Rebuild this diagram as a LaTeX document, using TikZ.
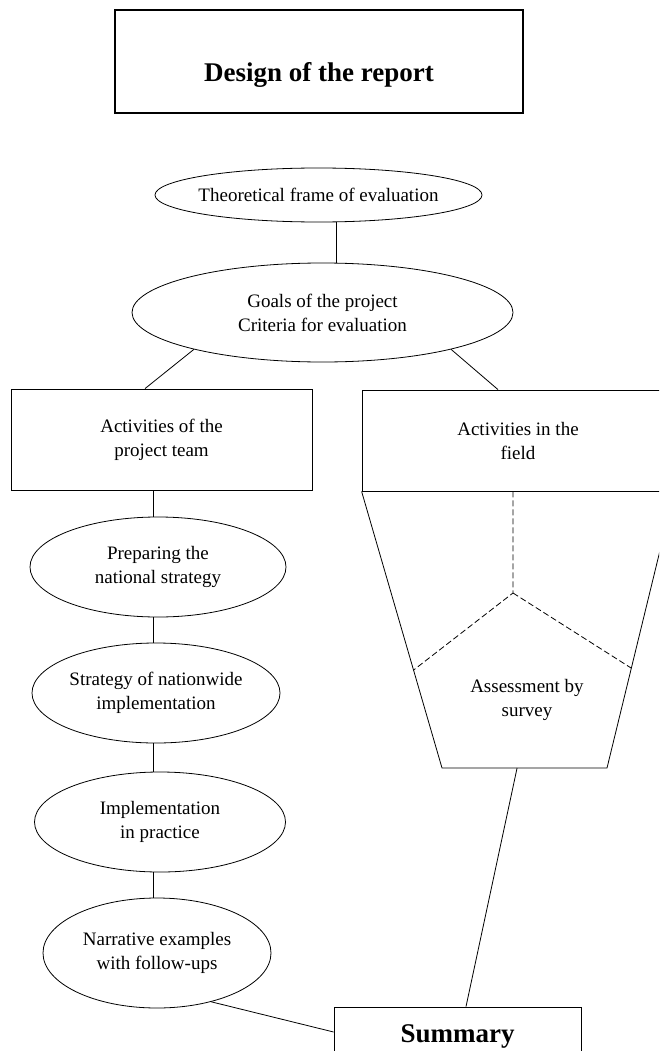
\documentclass[tikz,border=0pt]{standalone}
\usepackage{fontspec}
\setmainfont{Liberation Serif}
\usetikzlibrary{shapes,arrows,positioning,calc,shapes.geometric}

\begin{document}
\begin{tikzpicture}[x=1pt, y=-1pt, line width=0.8pt]
    \tikzstyle{box} = [draw, rectangle, inner sep=0pt, align=center, font=\fontsize{19}{24}\selectfont]
    \tikzstyle{oval} = [draw, ellipse, inner sep=0pt, align=center, font=\fontsize{19}{24}\selectfont]
    \tikzstyle{headbox} = [draw, rectangle, inner sep=0pt, font=\fontsize{27}{32}\selectfont\bfseries]
    \tikzstyle{line} = [draw]

    \clip (0,0) rectangle (659,1051);

    \node [headbox, line width=1.2pt, minimum width=408pt, minimum height=103pt, text height=41pt, text depth=0pt] (design) at (319,61.5) {Design of the report};

    \node [oval, inner xsep=-8pt, minimum width=327pt, minimum height=54pt] (theory) at (318.5,195) {Theoretical frame of evaluation};
    \node [oval, minimum width=381pt, minimum height=99pt] (goals) at (322.5,312.5) {Goals of the project\\Criteria for evaluation};

    \node [box, minimum width=301pt, minimum height=101pt] (acteam) at (161.5,439.5) {Activities of the\\project team};
    \node [box, minimum width=312pt, minimum height=101pt] (acfield) at (518,440.5) {Activities in the\\field};

    \node [oval, minimum width=256pt, minimum height=100pt] (prep) at (158,567) {Preparing the\\national strategy};
    \node [oval, minimum width=248pt, minimum height=100pt] (strat) at (156,693) {Strategy of nationwide\\implementation};
    \node [oval, minimum width=251pt, minimum height=100pt] (impl) at (160,822) {Implementation\\in practice};
    \node [oval, minimum width=228pt, minimum height=110pt] (narr) at (157,953) {Narrative examples\\with follow-ups};

    \node [headbox, minimum width=247pt, minimum height=59pt] (summary) at (457.5,1036.5) {Summary};

    \draw [line] ([xshift=18pt]theory.south) -- ([xshift=18pt]theory.south |- goals.north);
    \draw [line] (goals.196) -- ([xshift=-16.5pt]acteam.north);
    \draw [line] (goals.344) -- ([xshift=-20pt]acfield.north);

    % left column
    \coordinate (spine) at (153,0);
    \draw [line] (acteam.south -| spine) -- (prep.north -| spine);
    \draw [line] (prep.south -| spine) -- (strat.north -| spine);
    \draw [line] (strat.south -| spine) -- (impl.north -| spine);
    \draw [line] (impl.south -| spine) -- (narr.north -| spine);
    \draw [line] (narr.318) -- ([yshift=4.5pt]summary.west);

    % survey funnel
    \coordinate (bl) at (442,768);
    \coordinate (br) at (607,768);
    \draw [line] (acfield.south west) -- (bl) -- (br) -- (acfield.south east);
    \coordinate (hub) at (513,593);
    \coordinate (dl) at ($(acfield.south west)!0.646!(bl)$);
    \coordinate (dr) at ($(acfield.south east)!0.639!(br)$);
    \draw [dash pattern=on 6pt off 3pt] (acfield.south -| hub) -- (hub) -- (dl);
    \draw [dash pattern=on 6pt off 3pt] (hub) -- (dr);
    \node [align=center, font=\fontsize{19}{24}\selectfont] (survey) at (527,700) {Assessment by\\survey};

    \draw [line] ($(bl)!0.455!(br)$) -- ([xshift=8.5pt]summary.north);
\end{tikzpicture}
\end{document}
